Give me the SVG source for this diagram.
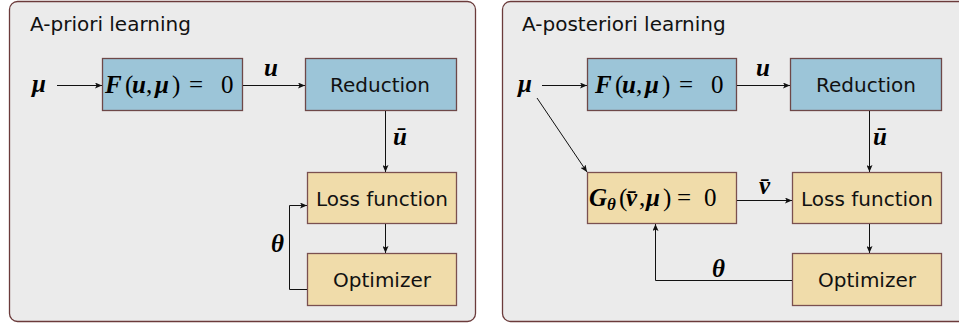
<svg xmlns="http://www.w3.org/2000/svg" width="959" height="323" viewBox="0 0 959 323">
<style>
.panel{fill:#ebebeb;stroke:#6b3b3b;stroke-width:1.3}
.blue{fill:#9cc5d8;stroke:#6e4848;stroke-width:1.3}
.yel{fill:#f0dcaa;stroke:#7a5050;stroke-width:1.3}
.title{font-family:"DejaVu Sans",sans-serif;font-size:20px;fill:#111}
.lbl{font-family:"DejaVu Sans",sans-serif;font-size:20px;fill:#111;text-anchor:middle}
.m{font-family:"Liberation Serif",serif;font-size:25px;fill:#000}
.b{font-weight:bold;font-style:italic}
.c{fill:none;stroke:#111;stroke-width:1}
</style>
<defs>
<marker id="ah" markerUnits="userSpaceOnUse" markerWidth="8" markerHeight="6" refX="7" refY="3" orient="auto">
<path d="M0,0 L7,3 L0,6 L1.6,3 z" fill="#111"/>
</marker>
</defs>
<g id="panel-apriori">
<rect class="panel" x="9.5" y="1.5" width="466" height="320" rx="8"/>
<text class="title" x="30" y="31">A-priori learning</text>
</g>
<g id="panel-aposteriori">
<rect class="panel" x="502.5" y="1.5" width="470" height="320" rx="8"/>
<text class="title" x="522" y="31">A-posteriori learning</text>
</g>
<g id="L-mu"><text class="m b" x="32" y="92">μ</text></g>
<g id="L-F">
<rect class="blue" x="102.5" y="58.5" width="140" height="52"/>
<text class="m" y="93"><tspan class="b" x="105">F</tspan><tspan x="125">(</tspan><tspan class="b" x="132">u</tspan><tspan x="146">,</tspan><tspan class="b" x="155">μ</tspan><tspan x="172">)</tspan><tspan x="189">=</tspan><tspan x="221">0</tspan></text>
</g>
<g id="L-reduction">
<rect class="blue" x="305.5" y="58.5" width="151" height="52"/>
<text class="lbl" x="380" y="92">Reduction</text>
</g>
<g id="L-loss">
<rect class="yel" x="307.5" y="172.5" width="149" height="51"/>
<text class="lbl" x="382" y="206">Loss function</text>
</g>
<g id="L-opt">
<rect class="yel" x="307.5" y="253.5" width="149" height="52"/>
<text class="lbl" x="382" y="287">Optimizer</text>
</g>
<g id="R-mu"><text class="m b" x="518" y="92">μ</text></g>
<g id="R-F">
<rect class="blue" x="587.5" y="58.5" width="149" height="52"/>
<text class="m" y="93"><tspan class="b" x="595">F</tspan><tspan x="615">(</tspan><tspan class="b" x="622">u</tspan><tspan x="636">,</tspan><tspan class="b" x="645">μ</tspan><tspan x="662">)</tspan><tspan x="679">=</tspan><tspan x="711">0</tspan></text>
</g>
<g id="R-reduction">
<rect class="blue" x="790.5" y="58.5" width="151" height="52"/>
<text class="lbl" x="866" y="92">Reduction</text>
</g>
<g id="R-G">
<rect class="yel" x="587.5" y="172.5" width="149" height="51"/>
<text class="m" y="206"><tspan class="b" x="589">G</tspan><tspan class="b" x="607" y="210" style="font-size:17px">θ</tspan><tspan x="619" y="206">(</tspan><tspan class="b" x="626">v̄</tspan><tspan x="639">,</tspan><tspan class="b" x="646">μ</tspan><tspan x="663">)</tspan><tspan x="677">=</tspan><tspan x="704">0</tspan></text>
</g>
<g id="R-loss">
<rect class="yel" x="792.5" y="172.5" width="149" height="51"/>
<text class="lbl" x="867" y="206">Loss function</text>
</g>
<g id="R-opt">
<rect class="yel" x="792.5" y="253.5" width="149" height="52"/>
<text class="lbl" x="867" y="287">Optimizer</text>
</g>
<g id="connectors">
<path class="c" d="M57,85.5 H102" marker-end="url(#ah)"/>
<path class="c" d="M243,85.5 H305" marker-end="url(#ah)"/>
<path class="c" d="M385.5,111 V172" marker-end="url(#ah)"/>
<path class="c" d="M385.5,224 V253" marker-end="url(#ah)"/>
<path class="c" d="M307,289.5 H289.5 V205.5 H307" marker-end="url(#ah)"/>
<path class="c" d="M542,85.5 H587" marker-end="url(#ah)"/>
<path class="c" d="M737,85.5 H790" marker-end="url(#ah)"/>
<path class="c" d="M869.5,111 V172" marker-end="url(#ah)"/>
<path class="c" d="M869.5,224 V253" marker-end="url(#ah)"/>
<path class="c" d="M737,200.5 H792" marker-end="url(#ah)"/>
<path class="c" d="M792,280.5 H655.5 V224" marker-end="url(#ah)"/>
<path class="c" d="M537,98 L587,172" marker-end="url(#ah)"/>
<text class="m b" x="264" y="76">u</text>
<text class="m b" x="393" y="145">ū</text>
<text class="m b" x="271" y="252">θ</text>
<text class="m b" x="756" y="76">u</text>
<text class="m b" x="873" y="145">ū</text>
<text class="m b" x="759" y="194">v̄</text>
<text class="m b" x="712" y="277">θ</text>
</g>
</svg>
